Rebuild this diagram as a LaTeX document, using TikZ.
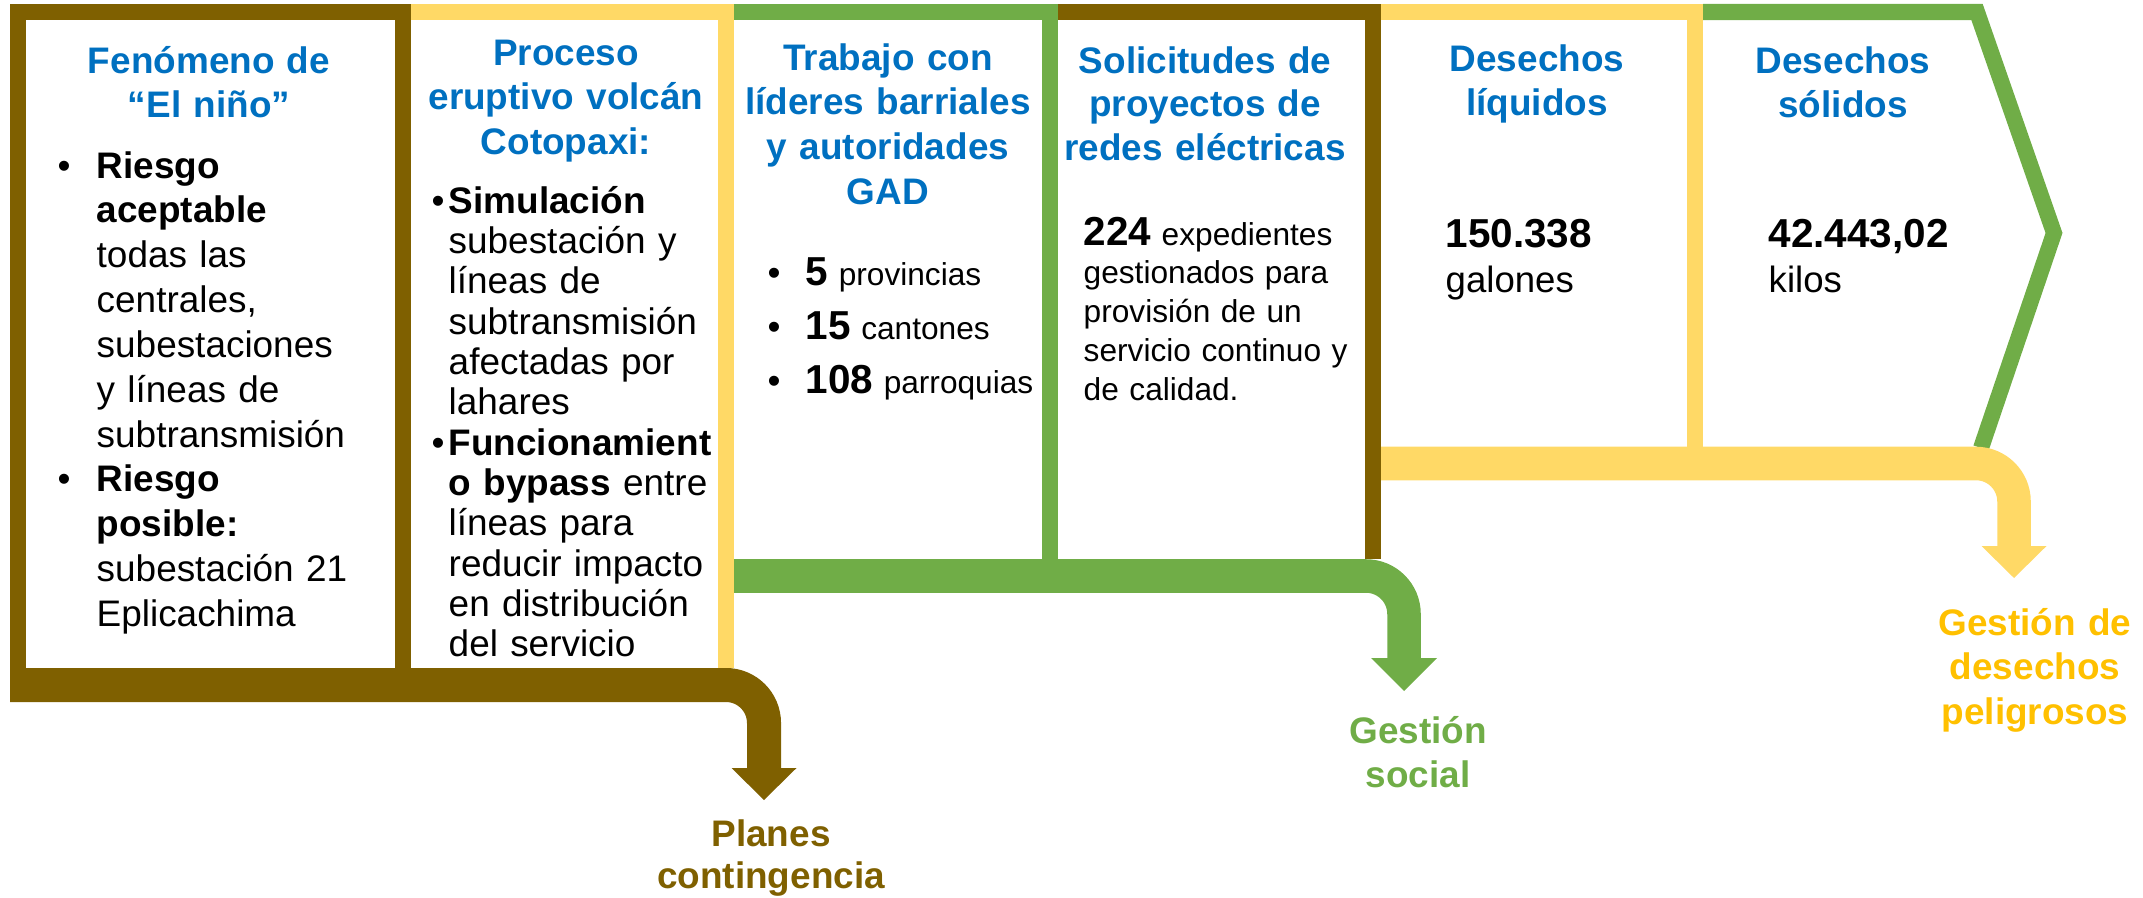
\documentclass[tikz,border=0pt]{standalone}
\usepackage{fontspec}
\setmainfont{Liberation Sans}
\definecolor{cafe}{HTML}{7F6000}
\definecolor{amarillo}{HTML}{FFD966}
\definecolor{verde}{HTML}{70AD47}
\definecolor{azul}{HTML}{0070C0}
\definecolor{oro}{HTML}{FFC000}
\newcommand{\vin}[1]{\hangindent=#1\hangafter=1\noindent\makebox[#1][l]{\fontsize{10.5}{10}\selectfont\textbullet}}
\newcommand{\cifra}[1]{{\fontsize{11.5}{11}\selectfont\bfseries #1}}

\begin{document}
\begin{tikzpicture}[x=0.01cm, y=-0.01cm,
    borde/.style={line width=0.16cm, line join=miter},
    barra/.style={line width=0.335cm, rounded corners=0.38cm},
    titulo/.style={anchor=base, inner sep=0pt, text width=3.3cm, align=center, text=azul, font=\fontsize{10.5}{12.75}\selectfont\bfseries},
    cuerpo/.style={anchor=base west, inner sep=0pt, text width=3.3cm, align=left, font=\fontsize{10.5}{12.75}\selectfont},
    rotulo/.style={anchor=base, inner sep=0pt, text width=2.6cm, align=center, font=\fontsize{10.5}{12.75}\selectfont\bfseries}]

    \useasboundingbox (0,0) rectangle (2143,897);

    \draw[borde, cafe] (18,685) -- (18,12) -- (403,12) -- (403,668);
    \draw[borde, amarillo] (411,12) -- (726,12) -- (726,668);
    \draw[borde, verde] (734,12) -- (1050,12) -- (1050,559);
    \draw[borde, cafe] (1058,12) -- (1373,12) -- (1373,559);
    \draw[borde, amarillo] (1381,12) -- (1695,12) -- (1695,447);
    \draw[borde, verde] (1703,12) -- (1977,12) -- (2054,233) -- (1981,448);

    \node[titulo] (t1) at (209,73) {Fenómeno de\\“El niño”};
    \node[titulo] (t2) at (566,65) {Proceso\\eruptivo volcán\\Cotopaxi:};
    \node[titulo] (t3) at (888,70) {Trabajo con\\líderes barriales\\y autoridades\\GAD};
    \node[titulo, font=\fontsize{10.5}{12.4}\selectfont\bfseries] (t4) at (1205,73) {Solicitudes de\\proyectos de\\redes eléctricas};
    \node[titulo] (t5) at (1537,71) {Desechos\\líquidos};
    \node[titulo] (t6) at (1843,73) {Desechos\\sólidos};

    \node[cuerpo] (nino) at (57,178) {\vin{0.39cm}\textbf{Riesgo}\newline\textbf{aceptable}\newline todas las\newline centrales,\newline subestaciones\newline y líneas de\newline subtransmisión\par\vin{0.39cm}\textbf{Riesgo}\newline\textbf{posible:}\newline subestación 21\newline Eplicachima\par};
    \node[cuerpo, text width=2.87cm, font=\fontsize{10.5}{11.47}\selectfont] (coto) at (431,213) {\vin{0.17cm}\textbf{Simulación}\newline subestación y\newline líneas de\newline subtransmisión\newline afectadas por\newline lahares\par\vin{0.17cm}\textbf{Funcionamient}\newline\textbf{o bypass} entre\newline líneas para\newline reducir impacto\newline en distribución\newline del servicio\par};
    \node[cuerpo, text width=2.7cm, font=\fontsize{9}{15.4}\selectfont] (gad) at (767,285) {\vin{0.38cm}\cifra{5} provincias\par\vin{0.38cm}\cifra{15} cantones\par\vin{0.38cm}\cifra{108} parroquias\par};
    \node[cuerpo, text width=2.9cm, font=\fontsize{9}{11.03}\selectfont] (expe) at (1083,245) {\cifra{224} expedientes\newline gestionados para\newline provisión de un\newline servicio continuo y\newline de calidad.};
    \node[cuerpo, text width=2.3cm, font=\fontsize{10.4}{12.8}\selectfont] (liq) at (1445,247) {\cifra{150.338}\newline galones};
    \node[cuerpo, text width=2.3cm, font=\fontsize{10.4}{12.8}\selectfont] (sol) at (1768,247) {\cifra{42.443,02}\newline kilos};

    \node[rotulo, text=cafe, font=\fontsize{10.5}{11.95}\selectfont\bfseries] (planes) at (771,846) {Planes\\contingencia};
    \node[rotulo, text=verde] (social) at (1418,743) {Gestión\\social};
    \node[rotulo, text=oro, font=\fontsize{10.5}{12.66}\selectfont\bfseries] (peligro) at (2035,635) {Gestión de\\desechos\\peligrosos};

    \coordinate (b1) at (10,685);
    \coordinate (b1f) at (764,769);
    \coordinate (b2) at (734,576);
    \coordinate (b2f) at (1404,659);
    \coordinate (b3) at (1381,463.5);
    \coordinate (b3f) at (2014,547);

    \draw[barra, cafe, line width=0.34cm] (b1) -| (b1f);
    \fill[cafe] (b1f) ++(-32.5,-1) -- ++(65,0) -- ++(-32.5,32) -- cycle;
    \draw[barra, verde] (b2) -| (b2f);
    \fill[verde] (b2f) ++(-33,-1) -- ++(66,0) -- ++(-33,33) -- cycle;
    \draw[barra, amarillo] (b3) -| (b3f);
    \fill[amarillo] (b3f) ++(-32.5,-1) -- ++(65,0) -- ++(-32.5,32) -- cycle;

\end{tikzpicture}
\end{document}
